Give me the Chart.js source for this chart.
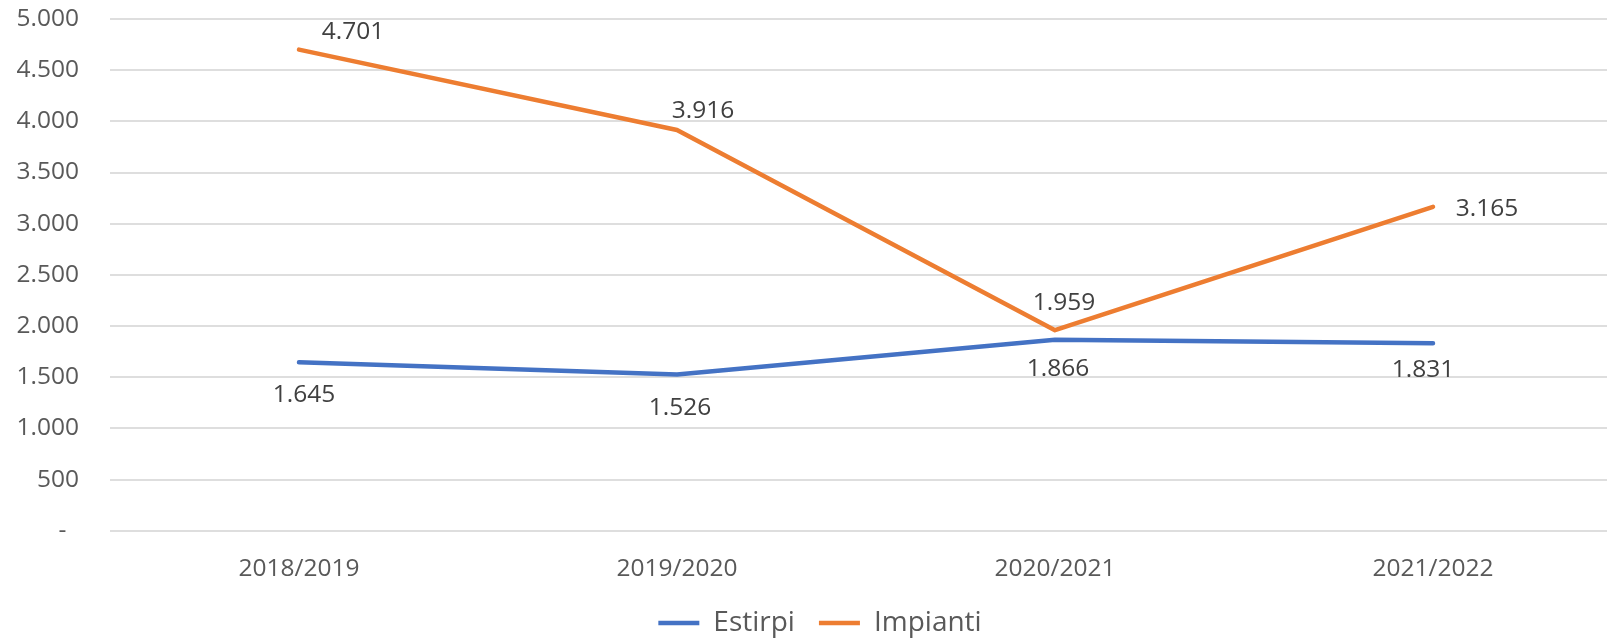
<!DOCTYPE html>
<html>
<head>
<meta charset="utf-8">
<script src="https://cdn.jsdelivr.net/npm/chart.js@4"></script>
<style>
  html, body { margin: 0; padding: 0; background: #fff; }
  body { width: 1607px; height: 639px; overflow: hidden; position: relative; }
  #wrap { position: absolute; left: 0; top: 0; }
</style>
</head>
<body>
<div id="wrap"><canvas id="myChart" width="1625" height="647"></canvas></div>
<script>
// DATA
var seasons = ['2018/2019', '2019/2020', '2020/2021', '2021/2022'];
var estirpi = [1645, 1526, 1866, 1831];
var impianti = [4701, 3916, 1959, 3165];
var yMin = 0;
var yMax = 5000;
var yStep = 500;

// label nudges (px from the point), like the hand placed labels in the original
var labelShift = [
  [[5, 33], [3, 33], [3, 29], [-10, 27]],
  [[54, -18], [26, -19], [9, -27], [54, 2]]
];

function fmt(v) {
  if (v === 0) return '-  ';
  return String(v).replace(/\B(?=(\d{3})+(?!\d))/g, '.');
}

var pointLabels = {
  id: 'pointLabels',
  afterDatasetsDraw: function (chart) {
    var ctx = chart.ctx;
    ctx.save();
    ctx.font = '24.5px "Open Sans"';
    ctx.fillStyle = '#404040';
    ctx.textAlign = 'center';
    ctx.textBaseline = 'middle';
    chart.data.datasets.forEach(function (ds, i) {
      var meta = chart.getDatasetMeta(i);
      meta.data.forEach(function (pt, j) {
        var s = labelShift[i][j];
        ctx.fillText(fmt(ds.data[j]), pt.x + s[0], pt.y + s[1]);
      });
    });
    ctx.restore();
  }
};

// legend sits a bit right of centre in the original
var legendNudge = {
  id: 'legendNudge',
  afterLayout: function (chart) {
    if (chart.legend) {
      chart.legend.left += 9;
      chart.legend.right += 9;
    }
  }
};

var ctx = document.getElementById('myChart').getContext('2d');
var chart = new Chart(ctx, {
  type: 'line',
  data: {
    labels: seasons,
    datasets: [{
      label: 'Estirpi',
      data: estirpi,
      borderColor: '#4472C4',
      backgroundColor: '#4472C4',
      borderWidth: 4.5,
      borderCapStyle: 'round',
      borderJoinStyle: 'round',
      pointRadius: 0,
      pointHoverRadius: 0,
      pointStyle: 'line',
      tension: 0
    }, {
      label: 'Impianti',
      data: impianti,
      borderColor: '#ED7D31',
      backgroundColor: '#ED7D31',
      borderWidth: 4.5,
      borderCapStyle: 'round',
      borderJoinStyle: 'round',
      pointRadius: 0,
      pointHoverRadius: 0,
      pointStyle: 'line',
      tension: 0
    }]
  },
  options: {
    responsive: false,
    animation: false,
    devicePixelRatio: 1,
    layout: { padding: { top: 19, right: 3, left: 0, bottom: 0 } },
    plugins: {
      tooltip: { enabled: false },
      legend: {
        position: 'bottom',
        labels: {
          usePointStyle: true,
          pointStyleWidth: 41,
          padding: 24,
          color: '#595959',
          font: { family: 'Open Sans', size: 28 }
        }
      }
    },
    scales: {
      x: {
        offset: true,
        grid: { display: false },
        border: { display: false },
        ticks: {
          color: '#595959',
          padding: 16,
          maxRotation: 0,
          font: { family: 'Open Sans', size: 24.5 }
        },
        afterFit: function (s) { s.height = 54.3; }
      },
      y: {
        min: yMin,
        max: yMax,
        border: { display: false },
        grid: { color: '#dedede', lineWidth: 2, drawTicks: false },
        ticks: {
          stepSize: yStep,
          color: '#595959',
          padding: 31,
          font: { family: 'Open Sans', size: 24.5 },
          callback: function (v) { return fmt(v); }
        },
        afterFit: function (s) {
          s.width = 110;
          // tick padding would otherwise push the plot top down
          s.paddingTop = 0;
          s.paddingBottom = 0;
        }
      }
    }
  },
  plugins: [pointLabels, legendNudge]
});
</script>
</body>
</html>
